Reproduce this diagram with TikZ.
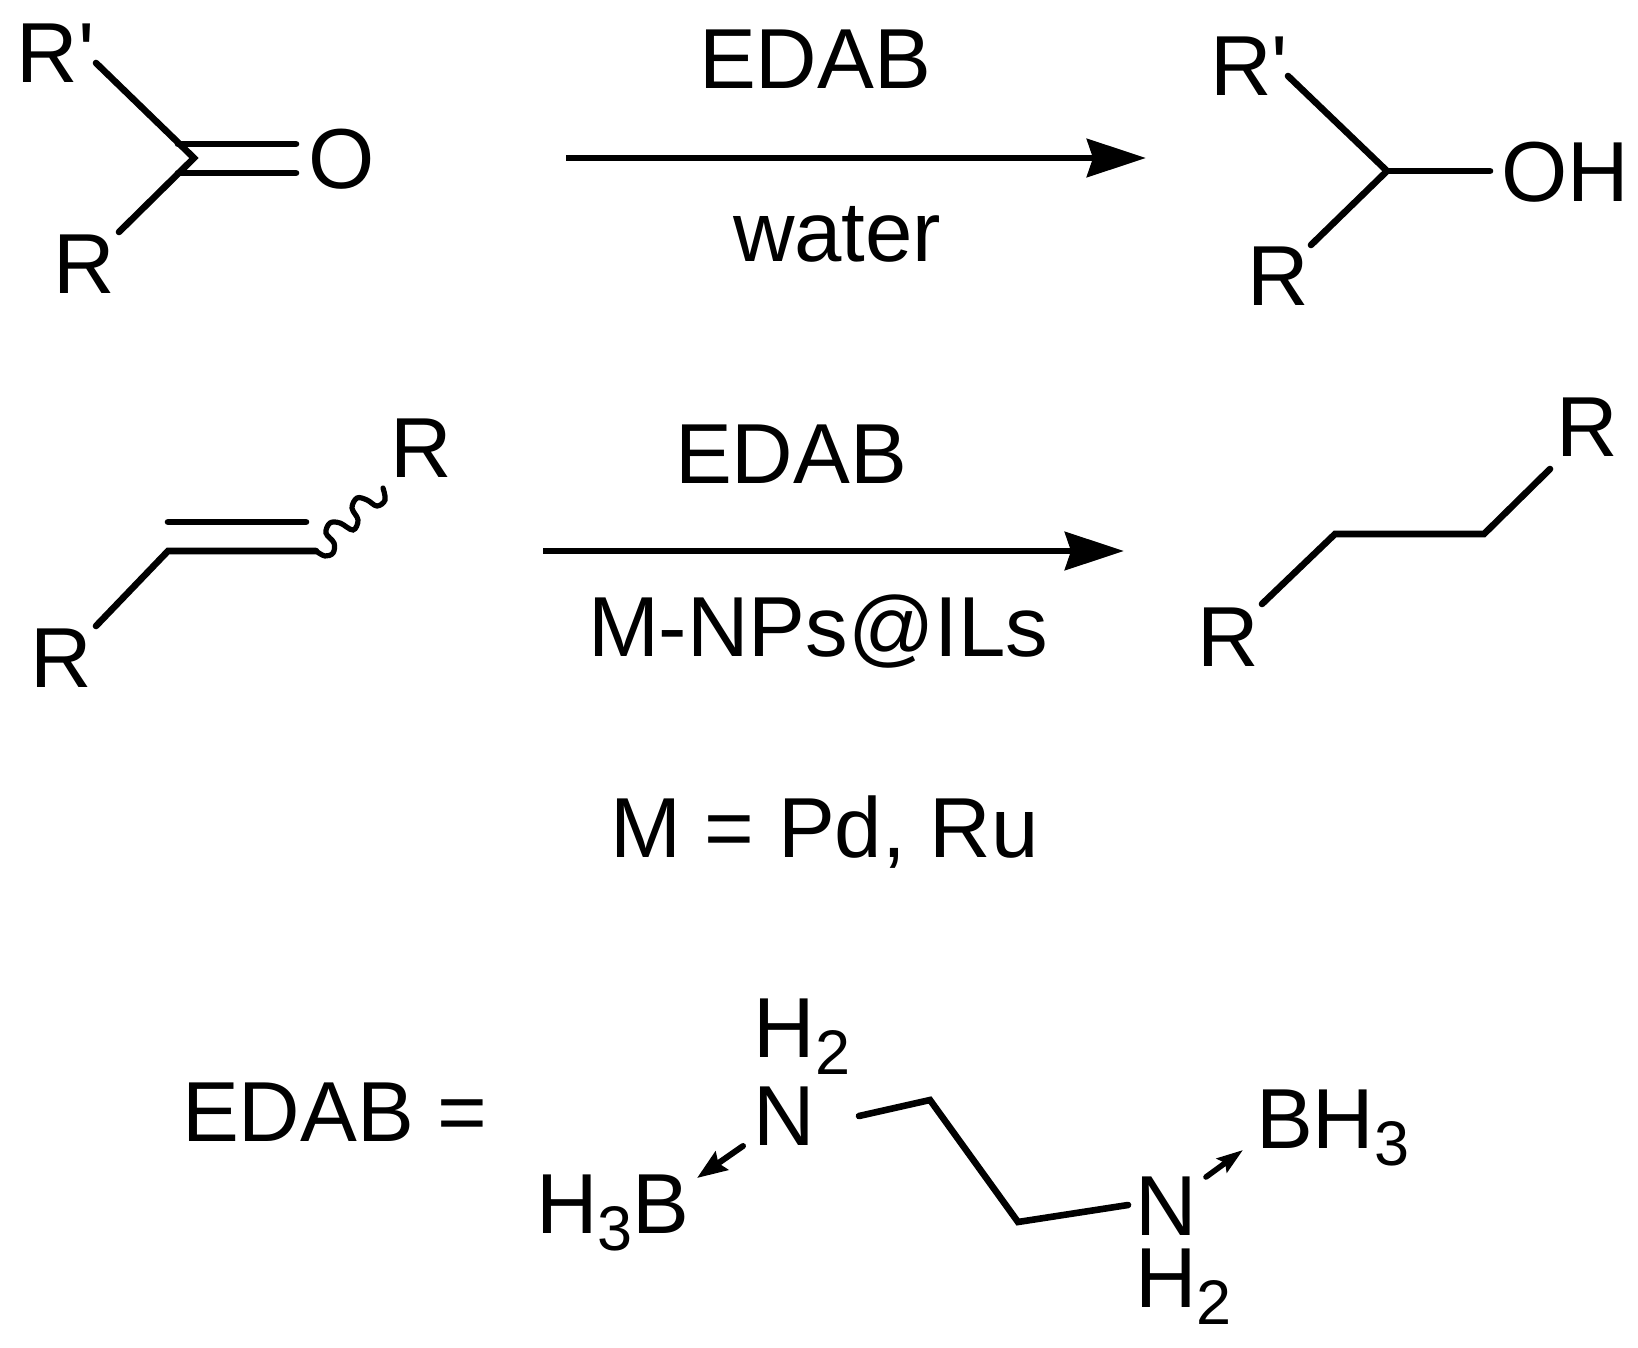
\documentclass[tikz,border=0pt]{standalone}
\usepackage{fontspec}
\newfontfamily\labelfont{Liberation Sans}
\newcommand{\lowered}[1]{\raisebox{-8.5pt}{\fontsize{31.5}{36}\selectfont #1}}
\usetikzlibrary{arrows.meta}
\tikzset{
  lab/.style={anchor=base west,inner sep=0pt,outer sep=0pt,font=\labelfont\fontsize{42.6}{50}\selectfont},
  bond/.style={line width=3.3pt,line cap=round,line join=miter,black},
  thinbond/.style={line width=2.6pt,line cap=round,black},
  rxn/.style={line width=3.4pt,-{Stealth[length=29.5pt,width=19pt,inset=3pt]}},
  dativeL/.style={line width=3pt,line cap=round,-{Stealth[length=15pt,width=11pt,inset=2pt]}},
  dativeR/.style={line width=2.8pt,line cap=round,-{Stealth[length=13pt,width=8.5pt,inset=2pt]}}
}
\begin{document}
\begin{tikzpicture}[x=0.5pt,y=-0.5pt]
\useasboundingbox (0,0) rectangle (1638,1348);
% ketone
\node[lab] (k1) at (17,83) {R'};
\node[lab] (k2) at (53,293) {R};
\node[lab] (kO) at (308,189) {O};
\coordinate (kc) at (194,158);
\coordinate (k1e) at (96,63);
\coordinate (k2e) at (119,232);
\coordinate (kd1a) at (178,144);
\coordinate (kd1b) at (296,144);
\coordinate (kd2a) at (178,173);
\coordinate (kd2b) at (296,173);
\draw[bond] (k1e) -- (kc) -- (k2e);
\draw[bond] (kd1a) -- (kd1b);
\draw[bond] (kd2a) -- (kd2b);
% reaction 1
\coordinate (a1s) at (566,158);
\coordinate (a1e) at (1146,158);
\draw[rxn] (a1s) -- (a1e);
\node[lab] (t1) at (699,89) {EDAB};
\node[lab] (t2) at (733,262) {water};
% alcohol
\node[lab] (p1) at (1210,96) {R'};
\node[lab] (p2) at (1247,306) {R};
\node[lab] (pO) at (1501,202) {OH};
\coordinate (pc) at (1387,171);
\coordinate (p1e) at (1288,76);
\coordinate (p2e) at (1311,245);
\coordinate (p3e) at (1490,171);
\draw[bond] (p1e) -- (pc) -- (p2e);
\draw[bond] (pc) -- (p3e);
% alkene
\node[lab] (e1) at (30,687) {R};
\node[lab] (e2) at (390,477) {R};
\coordinate (e1e) at (96,626);
\coordinate (ec1) at (168,551);
\coordinate (ec2) at (316,551);
\coordinate (ed1) at (168,522);
\coordinate (ed2) at (306,522);
\draw[bond] (e1e) -- (ec1) -- (ec2);
\draw[bond] (ed1) -- (ed2);
\draw[thinbond] plot[smooth,tension=0.6] coordinates {(ec2) (325,556) (333,553) (334,543) (326,533) (330,523) (340,523) (353,530) (358,520) (352,508) (357,498) (367,500) (377,506) (385,500) (383,488)};
% reaction 2
\coordinate (a2s) at (543,551);
\coordinate (a2e) at (1124,551);
\draw[rxn] (a2s) -- (a2e);
\node[lab] (t3) at (675,483) {EDAB};
\node[lab] (t4) at (588,656) {M-NPs@ILs};
% alkane
\node[lab] (q1) at (1197,666) {R};
\node[lab] (q2) at (1556,456) {R};
\coordinate (q1e) at (1262,604);
\coordinate (qc1) at (1335,534);
\coordinate (qc2) at (1484,534);
\coordinate (q2e) at (1550,469);
\draw[bond] (q1e) -- (qc1) -- (qc2) -- (q2e);
% M line
\node[lab] (t5) at (610,857) {M = Pd, Ru};
% EDAB
\node[lab] (t6) at (182,1141) {EDAB =};
\node[lab] (h1) at (753.5,1057) {H\lowered{2}};
\node[lab] (n1) at (753.5,1145) {N};
\node[lab] (b1) at (536,1233) {H\lowered{3}B};
\node[lab] (n2) at (1135,1235) {N};
\node[lab] (h2) at (1135,1307) {H\lowered{2}};
\node[lab] (b2) at (1256,1148) {BH\lowered{3}};
\coordinate (c0) at (859,1116);
\coordinate (c1) at (930,1100);
\coordinate (c2) at (1018,1222);
\coordinate (c3) at (1128,1205);
\draw[bond] (c0) -- (c1) -- (c2) -- (c3);
\coordinate (dl1) at (743,1146);
\coordinate (dl2) at (697,1178);
\coordinate (dr1) at (1206,1177);
\coordinate (dr2) at (1243,1150);
\draw[dativeL] (dl1) -- (dl2);
\draw[dativeR] (dr1) -- (dr2);
\end{tikzpicture}
\end{document}
